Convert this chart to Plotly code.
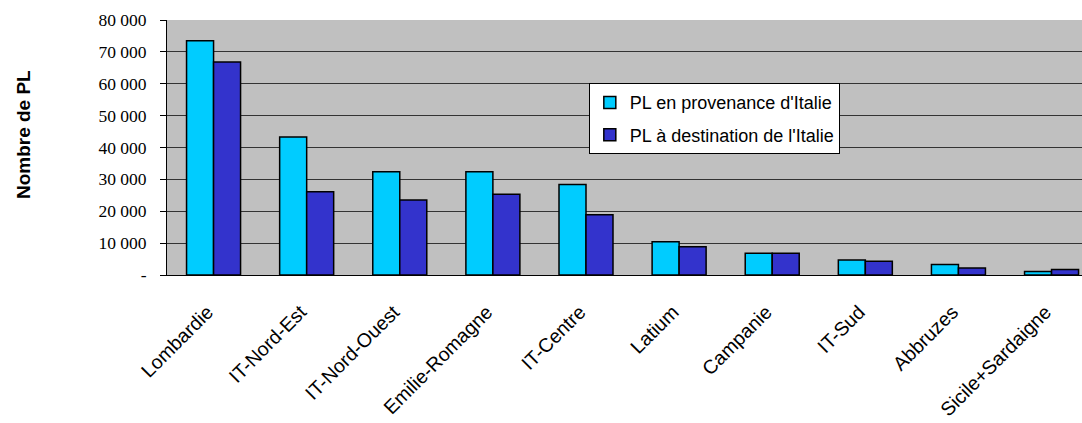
import plotly.graph_objects as go

# Régions italiennes et flux de poids lourds (PL)
regions = ["Lombardie", "IT-Nord-Est", "IT-Nord-Ouest", "Emilie-Romagne", "IT-Centre",
           "Latium", "Campanie", "IT-Sud", "Abbruzes", "Sicile+Sardaigne"]
provenance = [73500, 43300, 32400, 32400, 28400, 10400, 6800, 4700, 3300, 1100]
destination = [66800, 26100, 23500, 25300, 18900, 8900, 6800, 4300, 2200, 1700]

tick_vals = [0, 10000, 20000, 30000, 40000, 50000, 60000, 70000, 80000]
tick_text = ["-", "10 000", "20 000", "30 000", "40 000", "50 000", "60 000", "70 000", "80 000"]

SANS = "Liberation Sans, Arial, sans-serif"
SERIF = "Liberation Serif, Times New Roman, serif"

fig = go.Figure()
fig.add_trace(go.Bar(
    x=regions, y=provenance, name="PL en provenance d'Italie",
    marker=dict(color="#00CCFF", line=dict(color="black", width=1.5)),
    legendgroup="a",
))
fig.add_trace(go.Bar(
    x=regions, y=destination, name="PL à destination de l'Italie",
    marker=dict(color="#3333CC", line=dict(color="black", width=1.5)),
    legendgroup="b",
))

# Titre vertical de l'axe des ordonnées
fig.add_annotation(
    text="<b>Nombre de PL</b>", textangle=-90,
    xref="paper", yref="paper", x=-0.157, y=0.55,
    xanchor="center", yanchor="middle", showarrow=False,
    font=dict(size=19, family=SANS, color="black"),
)

fig.update_layout(
    width=1082, height=423,
    margin=dict(l=167, r=0, t=20, b=148),
    paper_bgcolor="white",
    plot_bgcolor="#C0C0C0",
    barmode="group",
    bargap=0.42,
    bargroupgap=0,
    font=dict(family=SANS, color="black"),
    legend=dict(
        x=0.461, y=0.752, xanchor="left", yanchor="top",
        bgcolor="white", bordercolor="black", borderwidth=1,
        font=dict(size=18, family=SANS),
        tracegroupgap=6,
    ),
    xaxis=dict(
        range=[-0.5, 9.327],
        tickangle=-45,
        tickfont=dict(size=19.5, family=SANS),
        showline=True, linecolor="black", linewidth=1,
        ticks="", ticklen=0,
        ticklabelstandoff=17,
        ticklabelshift=-6,
    ),
    yaxis=dict(
        range=[0, 80000],
        tickvals=tick_vals, ticktext=tick_text,
        tickfont=dict(size=17.5, family=SERIF),
        showgrid=True, gridcolor="#333333", gridwidth=1,
        showline=True, linecolor="black", linewidth=1,
        ticks="outside", ticklen=6, tickcolor="black",
        ticklabelstandoff=10,
        zeroline=False,
    ),
)

fig.write_html("out.html")
